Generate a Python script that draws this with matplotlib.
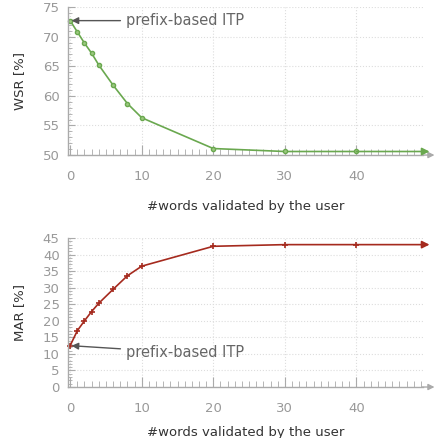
import matplotlib.pyplot as plt
from matplotlib.ticker import MultipleLocator

# words validated by the user
words = [0, 1, 2, 3, 4, 6, 8, 10, 20, 30, 40]
wsr = [72.7, 70.8, 68.9, 67.2, 65.2, 61.8, 58.7, 56.3, 51.1, 50.6, 50.6]
mar = [12.5, 17.0, 20.0, 22.8, 25.3, 29.5, 33.6, 36.5, 42.5, 43.0, 43.0]
arrow_end = 50.2

green = '#6aa84f'
red = '#a52a1e'
tick_grey = '#999999'
spine_grey = '#aaaaaa'

fig = plt.figure(figsize=(4.43, 4.38), dpi=100)
ax1 = fig.add_axes([0.1535, 0.646, 0.8015, 0.338])
ax2 = fig.add_axes([0.1535, 0.1164, 0.8015, 0.3402])


def style(ax, ylo, yhi, ystep, label, xpad):
    ax.set_xlim(-0.3, 49.3)
    ax.set_ylim(ylo, yhi)
    ax.xaxis.set_major_locator(MultipleLocator(10))
    ax.xaxis.set_minor_locator(MultipleLocator(1))
    ax.yaxis.set_major_locator(MultipleLocator(ystep))
    ax.yaxis.set_minor_locator(MultipleLocator(1))
    for s in ['top', 'right']:
        ax.spines[s].set_visible(False)
    for s in ['left', 'bottom']:
        ax.spines[s].set_color(spine_grey)
        ax.spines[s].set_linewidth(1.0)
    ax.tick_params(which='both', direction='in', color=spine_grey,
                   labelcolor=tick_grey, labelsize=9.5)
    ax.tick_params(axis='x', which='major', length=7, pad=11)
    ax.tick_params(axis='x', which='minor', length=4)
    ax.tick_params(axis='y', which='major', length=5, pad=6)
    ax.tick_params(axis='y', which='minor', length=3)
    ax.set_xticks([0, 10, 20, 30, 40])
    ax.grid(True, which='major', color='#dddddd', linestyle=':', linewidth=0.8)
    ax.set_axisbelow(True)
    ax.set_xlabel('#words validated by the user', fontsize=9.5, color='#333333',
                  labelpad=xpad)
    ax.set_ylabel(label, fontsize=9.5, color='#333333', labelpad=12)
    ax.annotate('', xy=(1.04, 0), xycoords='axes fraction', xytext=(0.99, 0),
                arrowprops=dict(arrowstyle='-|>', color=spine_grey, lw=1.0,
                                mutation_scale=9))


style(ax1, 50, 75, 5, 'WSR [%]', 12)
style(ax2, 0, 45, 5, 'MAR [%]', 8)

# WSR curve
ax1.plot(words, wsr, color=green, lw=1.2, marker='o', markersize=3,
         markerfacecolor='#9cc97f', markeredgecolor=green, clip_on=False)
ax1.annotate('', xy=(arrow_end, wsr[-1]), xytext=(words[-1], wsr[-1]),
             annotation_clip=False,
             arrowprops=dict(arrowstyle='-|>', color=green, lw=1.2,
                             mutation_scale=11, shrinkA=0, shrinkB=0))

# MAR curve
ax2.plot(words, mar, color=red, lw=1.2, marker='+', markersize=4,
         markeredgewidth=1.2, clip_on=False)
ax2.annotate('', xy=(arrow_end, mar[-1]), xytext=(words[-1], mar[-1]),
             annotation_clip=False,
             arrowprops=dict(arrowstyle='-|>', color=red, lw=1.2,
                             mutation_scale=11, shrinkA=0, shrinkB=0))

ax1.annotate('prefix-based ITP', xy=(words[0], wsr[0]), xytext=(7.8, wsr[0]),
             fontsize=10.5, color='#666666', va='center',
             arrowprops=dict(arrowstyle='-|>', color='#555555', lw=1.0,
                             mutation_scale=10, shrinkA=2, shrinkB=1))
ax2.annotate('prefix-based ITP', xy=(words[0], mar[0]), xytext=(7.8, 10.3),
             fontsize=10.5, color='#666666', va='center',
             arrowprops=dict(arrowstyle='-|>', color='#555555', lw=1.0,
                             mutation_scale=10, shrinkA=2, shrinkB=1))

fig.savefig('out.png', dpi=100)
